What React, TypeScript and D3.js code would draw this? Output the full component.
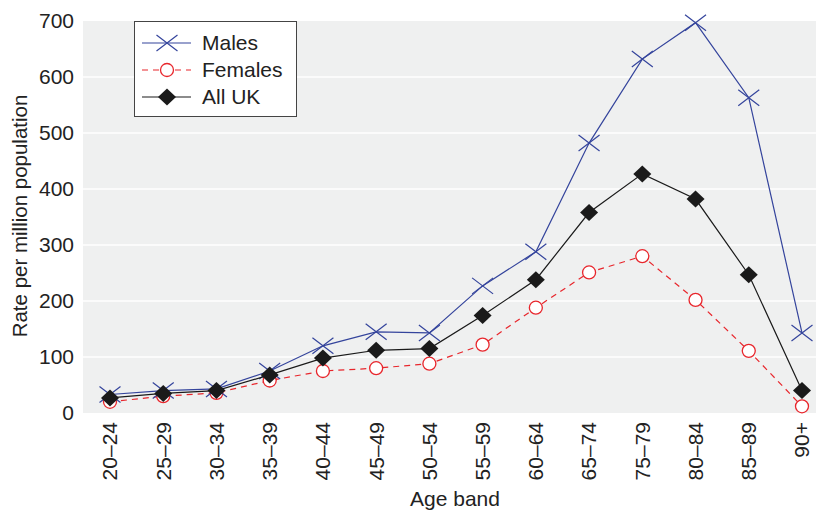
import { useEffect, useRef } from 'react';
import * as d3 from 'd3';

const ageBands = ['20–24', '25–29', '30–34', '35–39', '40–44', '45–49', '50–54', '55–59', '60–64', '65–74', '75–79', '80–84', '85–89', '90+'];
const males = [33, 40, 43, 75, 120, 145, 143, 227, 288, 482, 632, 697, 563, 143];
const females = [20, 30, 36, 58, 75, 80, 88, 122, 188, 251, 280, 202, 111, 12];
const allUK = [27, 35, 40, 68, 98, 112, 115, 174, 238, 358, 427, 382, 247, 40];
const yTicks = [0, 100, 200, 300, 400, 500, 600, 700];

const width = 816;
const height = 510;
const font = '"Liberation Sans", Arial, sans-serif';

const App = () => {
  const ref = useRef<SVGSVGElement>(null);

  useEffect(() => {
    if (!ref.current) return;
    const svg = d3.select(ref.current);
    svg.selectAll('*').remove();

    const left = 83, top = 21, bottom = 413;
    const x = d3.scalePoint<string>().domain(ageBands).range([110, 802]);
    const y = d3.scaleLinear().domain([0, 700]).range([bottom, top]);

    // plot background
    svg.append('rect')
      .attr('x', left).attr('y', top)
      .attr('width', width - left).attr('height', bottom - top)
      .attr('fill', '#eff0f0');

    // gridlines
    svg.selectAll('line.grid')
      .data(yTicks.filter(d => d > 0 && d < 700))
      .join('line')
      .attr('x1', left).attr('x2', width)
      .attr('y1', d => y(d)).attr('y2', d => y(d))
      .attr('stroke', '#fff').attr('stroke-width', 1.5);

    // y tick labels
    svg.selectAll('text.ytick')
      .data(yTicks)
      .join('text')
      .attr('x', 74).attr('y', d => y(d))
      .attr('dy', '0.35em')
      .attr('text-anchor', 'end')
      .style('font-family', font).style('font-size', '21px').attr('fill', '#222')
      .text(d => d);

    // x tick labels
    svg.selectAll('text.xtick')
      .data(ageBands)
      .join('text')
      .attr('transform', d => `translate(${x(d)},422) rotate(-90)`)
      .attr('dy', '0.35em')
      .attr('text-anchor', 'end')
      .style('font-family', font).style('font-size', '21px').attr('fill', '#222')
      .text(d => d);

    // axis titles
    svg.append('text')
      .attr('transform', `translate(27,216) rotate(-90)`)
      .attr('text-anchor', 'middle')
      .style('font-family', font).style('font-size', '20.5px').attr('fill', '#222')
      .text('Rate per million population');
    svg.append('text')
      .attr('x', 455).attr('y', 506)
      .attr('text-anchor', 'middle')
      .style('font-family', font).style('font-size', '21px').attr('fill', '#222')
      .text('Age band');

    const line = d3.line<number>()
      .x((_, i) => x(ageBands[i])!)
      .y(d => y(d));

    const blue = '#34449c';
    const red = '#e8262c';
    const black = '#1a1a1a';

    const crossPath = (cx: number, cy: number) =>
      `M${cx - 10.5},${cy - 8}L${cx + 10.5},${cy + 8}M${cx - 10.5},${cy + 8}L${cx + 10.5},${cy - 8}`;
    const diamondPath = (cx: number, cy: number) =>
      `M${cx},${cy - 8.5}L${cx + 9},${cy}L${cx},${cy + 8.5}L${cx - 9},${cy}Z`;

    // Females
    svg.append('path').datum(females)
      .attr('d', line).attr('fill', 'none')
      .attr('stroke', red).attr('stroke-width', 1.2).attr('stroke-dasharray', '6,5');
    svg.selectAll('circle.f')
      .data(females)
      .join('circle')
      .attr('cx', (_, i) => x(ageBands[i])!).attr('cy', d => y(d))
      .attr('r', 6.5).attr('fill', '#fff').attr('stroke', red).attr('stroke-width', 1.3);

    // Males
    svg.append('path').datum(males)
      .attr('d', line).attr('fill', 'none')
      .attr('stroke', blue).attr('stroke-width', 1.2);
    svg.append('g').selectAll('path')
      .data(males)
      .join('path')
      .attr('d', (d, i) => crossPath(x(ageBands[i])!, y(d)))
      .attr('stroke', blue).attr('stroke-width', 1.2).attr('fill', 'none');

    // All UK
    svg.append('path').datum(allUK)
      .attr('d', line).attr('fill', 'none')
      .attr('stroke', black).attr('stroke-width', 1.2);
    svg.append('g').selectAll('path')
      .data(allUK)
      .join('path')
      .attr('d', (d, i) => diamondPath(x(ageBands[i])!, y(d)))
      .attr('fill', black);

    // legend
    const lg = svg.append('g');
    lg.append('rect')
      .attr('x', 134.5).attr('y', 21.5).attr('width', 162).attr('height', 95)
      .attr('fill', '#fff').attr('stroke', '#444').attr('stroke-width', 1);
    const items = [
      { name: 'Males', color: blue, dash: null, marker: 'cross' },
      { name: 'Females', color: red, dash: '6,5', marker: 'circle' },
      { name: 'All UK', color: black, dash: null, marker: 'diamond' },
    ];
    items.forEach((it, i) => {
      const cy = 43 + i * 27;
      lg.append('line')
        .attr('x1', 142).attr('x2', 191).attr('y1', cy).attr('y2', cy)
        .attr('stroke', it.color).attr('stroke-width', 1.2)
        .attr('stroke-dasharray', it.dash);
      if (it.marker === 'cross') {
        lg.append('path').attr('d', crossPath(167, cy))
          .attr('stroke', it.color).attr('stroke-width', 1.2);
      } else if (it.marker === 'circle') {
        lg.append('circle').attr('cx', 167).attr('cy', cy).attr('r', 6.5)
          .attr('fill', '#fff').attr('stroke', it.color).attr('stroke-width', 1.3);
      } else {
        lg.append('path').attr('d', diamondPath(167, cy)).attr('fill', it.color);
      }
      lg.append('text')
        .attr('x', 202).attr('y', cy).attr('dy', '0.35em')
        .style('font-family', font).style('font-size', '21px').attr('fill', '#222')
        .text(it.name);
    });
  }, []);

  return (
    <svg ref={ref} width={width} height={height}
      style={{ position: 'absolute', left: 0, top: 0, display: 'block' }} />
  );
};

export default App;
